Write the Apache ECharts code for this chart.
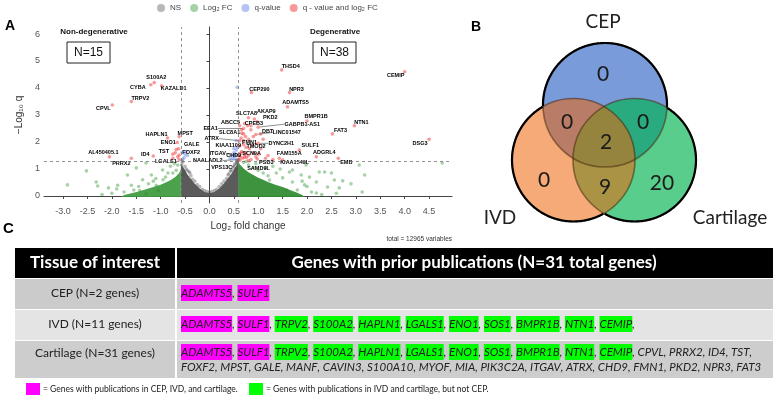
<!DOCTYPE html>
<html><head><meta charset="utf-8">
<script src="https://cdn.jsdelivr.net/npm/echarts@6/dist/echarts.min.js"></script>
<style>html,body{margin:0;padding:0;background:#fff}#c{width:784px;height:396px}</style>
</head><body><div id="c"></div>
<script>
// ================= DATA =================
// Volcano plot – labelled genes passing q-value and log2 FC thresholds
const sigGenes = ['CYBA','S100A2','KAZALD1','TRPV2','CPVL','HAPLN1','MPST','ENO1','GALE','TST','FOXF2','ID4','AL450405.1','PRRX2','LGALS1',
  'THSD4','CEMIP','CEP290','NPR3','ADAMTS5','BMPR1B','NTN1','FAT3','DSG3','SULF1','ADGRL4','EMB','FAM155A','KIAA1549L','PSD3','SCN9A','TMOD2',
  'DYNC2H1','FMN1','ATRX','SLC8A1','EEA1','ABCC5','SLC7A8','AKAP9','PKD2','CPEB3','GABPB1-AS1','DBT','LINC01547','ITGAV','CHD9','NAALADL2','VPS13C','SAMD9L'];
const sigFC = [-1.2,-1.13,-0.98,-1.6,-1.99,-0.86,-0.62,-0.66,-0.63,-0.75,-0.62,-1.15,-2.05,-1.6,-0.75,
  1.48,4.0,0.86,1.64,1.6,2.0,2.97,2.52,4.5,1.84,2.19,2.64,1.43,1.5,0.98,0.72,0.75,
  1.0,0.7,0.62,0.66,0.7,0.72,0.8,0.92,0.98,0.85,1.0,1.05,0.95,0.6,0.64,0.6,0.62,0.8];
const sigQ = [4.12,4.2,4.08,3.5,3.37,2.15,2.2,1.98,1.75,1.55,1.52,1.48,1.45,1.4,1.4,
  4.67,4.6,3.83,3.83,3.3,2.78,2.6,2.3,2.1,1.7,1.45,1.4,1.4,1.33,1.37,1.45,1.6,
  1.95,2.05,2.05,2.32,2.5,2.68,2.9,2.85,2.75,2.6,2.55,2.3,2.28,1.5,1.58,1.35,1.32,1.3];
// other points passing both thresholds (unlabelled)
const redFC = [0.62,0.66,0.7,0.74,0.8,0.65,0.85,0.9,0.7,0.75,0.82,0.62,0.66,0.72,0.8,0.9,0.95,0.68,0.85,1.0,0.63,0.76,1.2,1.05,0.88,0.78,1.1,-0.65,-0.7,-0.62,-0.68,1.3,1.15];
const redQ  = [2.6,2.45,2.3,2.2,2.1,2.15,2.45,2.2,1.9,1.8,1.75,1.85,1.65,1.55,1.5,1.6,1.45,1.4,1.35,1.55,1.45,1.42,1.5,1.75,1.9,2.6,2.1,1.45,1.6,1.35,1.72,1.35,1.4];
// q-value only
const blueGenes = ['KIAA1109'];
const blueLabFC = [0.57];
const blueLabQ = [1.8];
const blueFC = [-0.5,-0.45,-0.52,-0.48,-0.55,0.45,0.5,0.55,0.52,0.48,0.56,0.42,0.55,0.57,0.5,0.53,-0.56];
const blueQ  = [1.55,1.5,1.42,1.65,1.35,1.5,1.6,1.7,1.45,1.4,1.35,1.38,2.05,4.03,1.75,1.55,1.62];
// log2 FC only (scattered points)
const greenFC = [-2.91,-2.52,-2.32,-2.29,-2.07,-1.9,-1.88,-1.68,-1.6,-1.5,-1.43,-1.3,-1.37,-1.19,-1.09,-0.96,-0.9,-1.05,-0.8,-0.72,-0.68,-0.75,-0.65,-0.85,-1.15,-1.25,-1.45,-1.55,-1.75,-2.0,-1.3,-0.95,-1.1,-2.2,
  1.64,1.7,1.8,1.88,1.98,2.05,2.09,2.19,2.25,2.36,2.42,2.5,2.56,2.66,2.73,3.07,3.18,3.13,4.77,2.19,1.95,1.7,1.5,1.37,1.23,1.58,0.7,0.8,0.9,1.0,1.1,1.2,0.75,0.95,1.3,1.45,1.15,2.3,2.0,2.6,2.9,1.9];
const greenQ  = [0.41,0.93,0.52,0.37,0.3,0.26,0.4,0.78,0.4,1.04,0.2,1.22,0.6,0.78,0.4,0.96,0.7,0.2,1.1,1.2,0.95,0.85,1.15,0.85,0.55,0.45,0.35,0.22,0.15,0.1,0.08,0.6,0.65,0.05,
  0.89,0.52,0.22,0.78,1.15,0.7,0.15,0.52,0.89,0.89,0.33,0.85,0.59,0.3,0.56,1.15,0.78,0.15,1.22,0.11,0.41,0.96,0.67,0.85,0.59,0.22,1.25,1.15,1.05,0.95,0.85,0.75,1.28,1.2,1.1,1.0,1.05,0.05,0.35,0.1,0.45,0.55];
// not significant (scattered points)
const nsFC = [-0.55,-0.5,-0.45,-0.52,-0.4,-0.35,-0.3,-0.25,-0.2,-0.15,-0.1,-0.05,0,0.05,0.1,0.15,0.2,0.25,0.3,0.35,0.4,0.45,0.5,0.55,0.52,-0.57,-0.48,0.48,0.57,-0.38,0.38,-0.42,0.43,-0.56,0.56,-0.53,0.54];
const nsQ  = [1.25,1.1,0.95,0.9,0.85,0.62,0.55,0.42,0.35,0.25,0.2,0.16,0.14,0.16,0.2,0.25,0.35,0.45,0.55,0.65,0.82,0.95,1.1,1.22,1.18,1.15,1.0,1.05,1.28,0.75,0.78,0.9,0.92,1.3,1.3,0.78,0.98];
// outlines of the densest point clouds (thousands of overlapping points)
const nsCloudFC = [-0.585,-0.585,-0.55,-0.5,-0.45,-0.4,-0.3,-0.2,-0.1,0,0.1,0.2,0.3,0.4,0.45,0.5,0.55,0.585,0.585];
const nsCloudQ  = [-0.04,1.2,1.1,0.95,0.8,0.68,0.45,0.28,0.15,0.1,0.15,0.28,0.47,0.7,0.82,0.98,1.12,1.25,-0.04];
const fcRightCloudFC = [0.585,0.585,0.62,0.7,0.8,0.9,1.0,1.1,1.2,1.35,1.5,1.65,1.8,1.9,1.95];
const fcRightCloudQ  = [-0.04,1.3,1.18,1.02,0.88,0.78,0.68,0.6,0.52,0.42,0.33,0.22,0.12,0.04,-0.04];
const fcLeftCloudFC = [-0.585,-0.585,-0.62,-0.7,-0.8,-0.9,-1.0,-1.15,-1.3,-1.45,-1.6,-1.75,-1.8];
const fcLeftCloudQ  = [-0.04,1.0,0.85,0.7,0.58,0.5,0.42,0.33,0.25,0.17,0.1,0.04,-0.04];
const fcCutoff = 0.585, qCutoff = 1.301;
const xTicks = [-3.0,-2.5,-2.0,-1.5,-1.0,-0.5,0.0,0.5,1.0,1.5,2.0,2.5,3.0,3.5,4.0,4.5];
const yTicks = [0,1,2,3,4,5,6];
const groupN = ['N=15','N=38'];
const groupNames = ['Non-degenerative','Degenerative'];
const totalText = 'total = 12965 variables';

// Venn counts
const vennSets = ['CEP','IVD','Cartilage'];
const vennRegions = ['CEP','IVD','Cartilage','CEP&IVD','CEP&Cartilage','IVD&Cartilage','CEP&IVD&Cartilage'];
const vennCounts = [0,0,20,0,0,9,2];

// Table
const tableHeader = ['Tissue of interest','Genes with prior publications (N=31 total genes)'];
const tissues = ['CEP (N=2 genes)','IVD (N=11 genes)','Cartilage (N=31 genes)'];
const genesAll3 = ['ADAMTS5','SULF1'];
const genesIvdCart = ['TRPV2','S100A2','HAPLN1','LGALS1','ENO1','SOS1','BMPR1B','NTN1','CEMIP'];
const genesCartOnly = ['CPVL','PRRX2','ID4','TST','FOXF2','MPST','GALE','MANF','CAVIN3','S100A10','MYOF','MIA','PIK3C2A','ITGAV','ATRX','CHD9','FMN1','PKD2','NPR3','FAT3'];
const keyTexts = ['= Genes with publications in CEP, IVD, and cartilage.','= Genes with publications in IVD and cartilage, but not CEP.'];

// ================= LAYOUT / STYLE =================
const labelNudge = {CYBA:[-13,3],S100A2:[2,-5],KAZALD1:[12,3],TRPV2:[9,-3],CPVL:[-9,3],HAPLN1:[-11,-3],MPST:[6,-3],ENO1:[-9,0],GALE:[13,-4],
  TST:[-9,-3],FOXF2:[12,-2],ID4:[-8,-2],'AL450405.1':[-6,-4],PRRX2:[-10,5],LGALS1:[-7,3],THSD4:[9,-3],CEMIP:[-9,4],CEP290:[8,-3],NPR3:[7,-3],
  ADAMTS5:[8,-4],BMPR1B:[9,-4],NTN1:[7,-3],FAT3:[8,-3],DSG3:[-9,4],SULF1:[11,-5],ADGRL4:[8,-4],EMB:[8,4],FAM155A:[10,-5],KIAA1549L:[12,2],
  PSD3:[9,3],SCN9A:[7,-3],TMOD2:[10,-6],DYNC2H1:[23,0],FMN1:[6,2],ATRX:[-28,-2],SLC8A1:[-12,-1],EEA1:[-33,0],ABCC5:[-14,-1],SLC7A8:[-2,-4],
  AKAP9:[12,-8],PKD2:[13,-4],CPEB3:[3,-2],'GABPB1-AS1':[44,-3],DBT:[7,-2],LINC01547:[31,-2],ITGAV:[-21,-2],CHD9:[-7,2],NAALADL2:[-31,1],
  VPS13C:[-18,7],SAMD9L:[10,8],KIAA1109:[-9,-2]};
const GRID = {left:44, top:27, width:408, height:176};
const COL = {ns:'rgba(77,77,77,0.5)', fc:'rgba(34,139,34,0.5)', q:'rgba(65,105,225,0.5)', both:'rgba(238,0,0,0.5)'};
const LEG = ['NS','Log₂ FC','q-value','q - value and log₂ FC'];

function items(fcs, qs, names){
  return fcs.map((x,i)=>{
    const o = {value:[x, qs[i]], name: names ? names[i] : ''};
    if (names) {
      const n = labelNudge[names[i]] || [6,0];
      o.labelLine = {show: Math.hypot(n[0],n[1]) > 16};
    }
    return o;
  });
}
const labelCfg = {show:true, formatter:p=>p.name||'', fontSize:5.5, fontWeight:'bold', color:'#000', opacity:1, fontFamily:'Liberation Sans, Arial'};
function labelLayout(p){
  const name = p.text; if(!name) return {};
  const n = labelNudge[name] || [6,0];
  return {x: p.rect.x + p.rect.width/2 + n[0], y: p.rect.y + p.rect.height/2 + n[1], align:'center', verticalAlign:'middle'};
}
function cloud(name, xs, ys, color){
  return {type:'custom', name:name, silent:true, z:1, data:[[xs[0],ys[0]]], clip:true,
    renderItem:(params, api)=>({type:'polygon', shape:{points: xs.map((x,i)=>api.coord([x, ys[i]]))}, style:{fill:color, opacity:0.92}})};
}
const scatterBase = {type:'scatter', symbolSize:3.6, z:3};

// ---- Venn layout
const vennCircles = {CEP:{cx:605,cy:105,r:62}, IVD:{cx:573.5,cy:160,r:61.5}, Cartilage:{cx:634.5,cy:160,r:61.5}};
const vennFill = {CEP:'#7a9bda', Cartilage:'rgba(0,178,78,0.65)', IVD:'rgba(236,100,9,0.55)'};
const vennNumPos = {'CEP':[603,74],'IVD':[544,180],'Cartilage':[662,183],'CEP&IVD':[567,122],'CEP&Cartilage':[643,122],'IVD&Cartilage':[605,187],'CEP&IVD&Cartilage':[606,142]};
const vennLabelPos = {CEP:[603,22], IVD:[500,218], Cartilage:[730,218]};

function outerArcs(circs){
  const out=[];
  circs.forEach((c,i)=>{
    const N=360, flags=[], pts=[];
    for(let k=0;k<N;k++){
      const a=k/N*2*Math.PI, p=[c.cx+c.r*Math.cos(a), c.cy+c.r*Math.sin(a)];
      pts.push(p);
      flags.push(circs.every((d,j)=> j===i || Math.hypot(p[0]-d.cx,p[1]-d.cy) > d.r));
    }
    let start = flags.findIndex(f=>!f); if(start<0) start=0;
    let run=[];
    for(let t=0;t<=N;t++){
      const k=(start+t)%N;
      if(flags[k]) run.push(pts[k]); else { if(run.length>1) out.push(run); run=[]; }
    }
    if(run.length>1) out.push(run);
  });
  return out;
}

function T(x,y,text,font,fill,align,valign,extra){
  return Object.assign({type:'text', x:x, y:y, z:100, silent:true,
    style:Object.assign({text:text, font:font, fill:fill||'#000', textAlign:align||'left', align:align||'left',
      textVerticalAlign:valign||'middle', verticalAlign:valign||'middle'}, extra||{})});
}
function R(x,y,w,h,fill,extra){ return Object.assign({type:'rect', z:90, silent:true, shape:{x,y,width:w,height:h}, style:Object.assign({fill},extra||{})}); }

const g = [];
// panel letters
g.push(T(5,26,'A','bold 14px Liberation Sans','#000'));
g.push(T(471,27,'B','bold 14px Liberation Sans','#000'));
g.push(T(3,229,'C','bold 15px Liberation Sans','#000'));
// group annotations
g.push(T(94,32,groupNames[0],'bold 8px Liberation Sans','#111','center'));
g.push(R(67,42,43,21,'#fff',{stroke:'#222',lineWidth:1}));
g.push(T(88.5,53,groupN[0],'12px Liberation Sans','#111','center'));
g.push(T(335,32,groupNames[1],'bold 8px Liberation Sans','#111','center'));
g.push(R(313,42,43,21,'#fff',{stroke:'#222',lineWidth:1}));
g.push(T(334.5,53,groupN[1],'12px Liberation Sans','#111','center'));
g.push(T(452,239,totalText,'6.5px Liberation Sans','#333','right'));

// Venn
['CEP','Cartilage','IVD'].forEach(s=>{
  const c=vennCircles[s];
  g.push({type:'circle', z:50, silent:true, shape:{cx:c.cx,cy:c.cy,r:c.r}, style:{fill:vennFill[s]}});
});
vennSets.forEach(s=>{
  const c=vennCircles[s];
  g.push({type:'circle', z:51, silent:true, shape:{cx:c.cx,cy:c.cy,r:c.r}, style:{fill:null, stroke:'rgba(70,40,15,0.55)', lineWidth:1.6}});
});
outerArcs(vennSets.map(s=>vennCircles[s])).forEach(run=>{
  g.push({type:'polyline', z:52, silent:true, shape:{points:run}, style:{fill:null, stroke:'#000', lineWidth:2.2}});
});
vennRegions.forEach((r,i)=>{
  const p=vennNumPos[r];
  g.push(T(p[0],p[1],String(vennCounts[i]),'21px Lato','#1a1a1a','center'));
});
vennSets.forEach(s=>{ const p=vennLabelPos[s]; g.push(T(p[0],p[1],s,'19px Lato','#222','center')); });

// Table
const TX0=15, TX1=175, TX2=773;
const rowsY = [[248,278],[279,309],[310,340],[341,378]];
const rowBg = ['#000','#cbcbcb','#e4e4e4','#cdcdcd'];
rowsY.forEach((ry,i)=>{
  g.push(R(TX0, ry[0], TX1-TX0, ry[1]-ry[0], rowBg[i]));
  g.push(R(TX1+2, ry[0], TX2-TX1-2, ry[1]-ry[0], rowBg[i]));
});
g.push(T((TX0+TX1)/2, 263, tableHeader[0], 'bold 17px Lato', '#fff', 'center'));
g.push(T((TX1+TX2)/2, 263, tableHeader[1], 'bold 17px Lato', '#fff', 'center'));
const rowTextY = [293, 324, 353];
tissues.forEach((t,i)=> g.push(T((TX0+TX1)/2, rowTextY[i], t, '12px Lato', '#222', 'center')));
const geneFont = {fontSize:11.5, fontStyle:'italic', fontFamily:'Lato', fill:'#222', color:'#222'};
const rich = {
  m: Object.assign({backgroundColor:'#ff00ff', padding:[2,0,2,0]}, geneFont),
  g: Object.assign({backgroundColor:'#00ff00', padding:[2,0,2,0]}, geneFont),
  t: Object.assign({}, geneFont)
};
function tag(list, k){ return list.map(s=>'{'+k+'|'+s+'}'); }
const row1 = tag(genesAll3,'m').join('{t|, }');
const row2 = tag(genesAll3,'m').concat(tag(genesIvdCart,'g')).join('{t|, }') + '{t|,}';
const brk = genesCartOnly.indexOf('TST')+1;
const row3a = tag(genesAll3,'m').concat(tag(genesIvdCart,'g')).concat(tag(genesCartOnly.slice(0,brk),'t')).join('{t|, }') + '{t|,}';
const row3b = tag(genesCartOnly.slice(brk),'t').join('{t|, }');
[row1,row2].forEach((txt,i)=> g.push(T(181, rowTextY[i], txt, 'italic 11.5px Lato', '#222', 'left', 'middle', {rich})));
g.push(T(181, 352, row3a, 'italic 11.5px Lato', '#222', 'left', 'middle', {rich}));
g.push(T(181, 367, row3b, 'italic 11.5px Lato', '#222', 'left', 'middle', {rich}));
// key
g.push(R(26,383,14,12,'#ff00ff'));
g.push(T(43,389,keyTexts[0],'8.5px Lato','#222'));
g.push(R(249,383,14,12,'#00ff00'));
g.push(T(266,389,keyTexts[1],'8.5px Lato','#222'));

const option = {
  animation:false,
  backgroundColor:'#fff',
  grid: GRID,
  legend: {data:LEG, top:-1, left:152, itemWidth:8, itemHeight:8, itemGap:9, icon:'circle',
    textStyle:{fontSize:8, color:'#444', fontFamily:'Liberation Sans, Arial'}},
  xAxis: {type:'value', min:-3.39, max:4.97, splitLine:{show:false},
    name:'Log₂ fold change', nameLocation:'middle', nameGap:18, nameTextStyle:{fontSize:10, color:'#333', fontFamily:'Liberation Sans, Arial'},
    axisLine:{lineStyle:{color:'#444', width:1}},
    axisTick:{customValues:xTicks, length:3, lineStyle:{color:'#444'}},
    axisLabel:{customValues:xTicks, formatter:v=>v.toFixed(1), fontSize:9, color:'#555', margin:4, fontFamily:'Liberation Sans, Arial'}},
  yAxis: {type:'value', min:-0.26, max:6.26, splitLine:{show:false},
    name:'−Log₁₀ q', nameLocation:'middle', nameGap:10, nameRotate:90, nameTextStyle:{fontSize:10, color:'#333', fontFamily:'Liberation Sans, Arial'},
    axisLine:{show:true, lineStyle:{color:'#444', width:1}},
    axisTick:{show:true, customValues:yTicks, length:3, lineStyle:{color:'#444'}},
    axisLabel:{customValues:yTicks, fontSize:9, color:'#555', margin:4, fontFamily:'Liberation Sans, Arial'}},
  series: [
    cloud('nsCloud', nsCloudFC, nsCloudQ, '#4d4d4d'),
    cloud('fcCloudR', fcRightCloudFC, fcRightCloudQ, '#2e8b2e'),
    cloud('fcCloudL', fcLeftCloudFC, fcLeftCloudQ, '#3d9a3d'),
    Object.assign({}, scatterBase, {name:LEG[0], data:items(nsFC,nsQ), itemStyle:{color:COL.ns},
      markLine:{silent:true, symbol:'none', label:{show:false}, lineStyle:{color:'#777', type:[3,3], width:0.8},
        data:[{xAxis:-fcCutoff},{xAxis:fcCutoff},{yAxis:qCutoff}]}}),
    Object.assign({}, scatterBase, {name:LEG[1], data:items(greenFC,greenQ), itemStyle:{color:COL.fc}}),
    Object.assign({}, scatterBase, {name:LEG[2], data:items(blueFC,blueQ).concat(items(blueLabFC,blueLabQ,blueGenes)), itemStyle:{color:COL.q},
      label:labelCfg, labelLayout:labelLayout, labelLine:{show:false, lineStyle:{color:'#222', width:0.5}}}),
    Object.assign({}, scatterBase, {name:LEG[3], data:items(redFC,redQ).concat(items(sigFC,sigQ,sigGenes)), itemStyle:{color:COL.both},
      label:labelCfg, labelLayout:labelLayout, labelLine:{show:false, lineStyle:{color:'#222', width:0.5}}})
  ],
  graphic: g
};
const chart = echarts.init(document.getElementById('c'), null, {renderer:'canvas'});
chart.setOption(option);
</script></body></html>
